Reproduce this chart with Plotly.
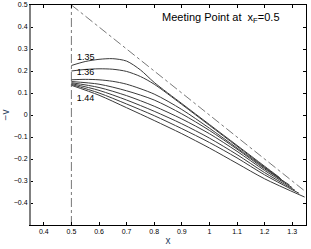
import plotly.graph_objects as go

# curves: x values and -v values
curve_x = [
    [0.5, 0.55, 0.6, 0.65, 0.7, 0.75, 0.8, 0.9, 1.0, 1.1, 1.2, 1.255],
    [0.5, 0.55, 0.6, 0.65, 0.7, 0.75, 0.8, 0.9, 1.0, 1.1, 1.2, 1.26],
    [0.5, 0.55, 0.6, 0.65, 0.7, 0.8, 0.9, 1.0, 1.1, 1.2, 1.27],
    [0.5, 0.6, 0.7, 0.8, 0.9, 1.0, 1.1, 1.2, 1.29],
    [0.5, 0.6, 0.7, 0.8, 0.9, 1.0, 1.1, 1.2, 1.30],
    [0.5, 0.6, 0.7, 0.8, 0.9, 1.0, 1.1, 1.2, 1.31],
    [0.5, 0.6, 0.7, 0.8, 0.9, 1.0, 1.1, 1.2, 1.325],
    [0.5, 0.6, 0.7, 0.8, 0.9, 1.0, 1.1, 1.2, 1.345],
]
curve_y = [
    [0.225, 0.243, 0.253, 0.256, 0.245, 0.205, 0.148, 0.052, -0.043, -0.138, -0.233, -0.285],
    [0.200, 0.207, 0.210, 0.208, 0.198, 0.175, 0.140, 0.048, -0.047, -0.142, -0.237, -0.292],
    [0.160, 0.162, 0.160, 0.153, 0.140, 0.095, 0.025, -0.060, -0.150, -0.240, -0.303],
    [0.152, 0.140, 0.110, 0.068, 0.005, -0.070, -0.155, -0.245, -0.318],
    [0.147, 0.125, 0.088, 0.040, -0.018, -0.085, -0.165, -0.252, -0.330],
    [0.143, 0.112, 0.068, 0.017, -0.040, -0.105, -0.180, -0.262, -0.342],
    [0.139, 0.100, 0.050, -0.003, -0.062, -0.125, -0.195, -0.272, -0.356],
    [0.135, 0.090, 0.033, -0.025, -0.085, -0.150, -0.220, -0.290, -0.373],
]
diag_x = [0.5, 1.35]
diag_y = [0.5, -0.35]
vert_x = [0.5, 0.5]
vert_y = [-0.5, 0.5]
label_text = ["1.35", "1.36", "1.44"]
label_x = [0.552, 0.551, 0.551]
label_y = [0.262, 0.190, 0.073]
xticks = [0.4, 0.5, 0.6, 0.7, 0.8, 0.9, 1.0, 1.1, 1.2, 1.3]
yticks = [-0.4, -0.3, -0.2, -0.1, 0, 0.1, 0.2, 0.3, 0.4, 0.5]

FONT = "Liberation Sans, Arial"

fig = go.Figure()
for cx, cy in zip(curve_x, curve_y):
    fig.add_trace(go.Scatter(x=cx, y=cy, mode="lines",
                             line=dict(color="#3a3a3a", width=1, shape="spline", smoothing=0.8),
                             showlegend=False, hoverinfo="skip"))
fig.add_trace(go.Scatter(x=diag_x, y=diag_y, mode="lines",
                         line=dict(color="#555", width=0.8, dash="dashdot"), showlegend=False))
fig.add_trace(go.Scatter(x=vert_x, y=vert_y, mode="lines",
                         line=dict(color="#555", width=0.8, dash="dashdot"), showlegend=False))
fig.add_trace(go.Scatter(x=label_x, y=label_y, mode="text", text=label_text,
                         textfont=dict(family=FONT, size=9, color="black"),
                         showlegend=False))

fig.add_annotation(x=1.043, y=0.44, xref="x", yref="y", showarrow=False,
                   text="Meeting Point at  x<sub>F</sub>=0.5",
                   font=dict(family=FONT, size=11, color="black"))

axis_common = dict(showgrid=False, zeroline=False, mirror="ticks", ticks="inside",
                   ticklen=3, tickcolor="black", showline=True, linecolor="black",
                   linewidth=1, automargin=False,
                   tickfont=dict(family=FONT, size=7, color="black"))
fig.update_xaxes(range=[0.35, 1.35], tickvals=xticks,
                 ticktext=[("%g" % v) for v in xticks],
                 title=dict(text="x", font=dict(family=FONT, size=10), standoff=2),
                 **axis_common)
fig.update_yaxes(range=[-0.5, 0.5], tickvals=yticks,
                 ticktext=[("%g" % v).replace("-", "\u2212") for v in yticks],
                 title=dict(text="\u2212v", font=dict(family=FONT, size=10), standoff=4),
                 **axis_common)
fig.add_shape(type="line", xref="paper", yref="paper", x0=0, x1=0, y0=0, y1=1,
              line=dict(color="#808080", width=2))
fig.update_layout(width=311, height=249, margin=dict(l=30, r=5, t=5, b=24),
                  plot_bgcolor="white", paper_bgcolor="white")
fig.write_html("out.html", config={"displayModeBar": False},
               post_script="document.body.style.margin='0px';document.body.style.overflow='hidden';")
